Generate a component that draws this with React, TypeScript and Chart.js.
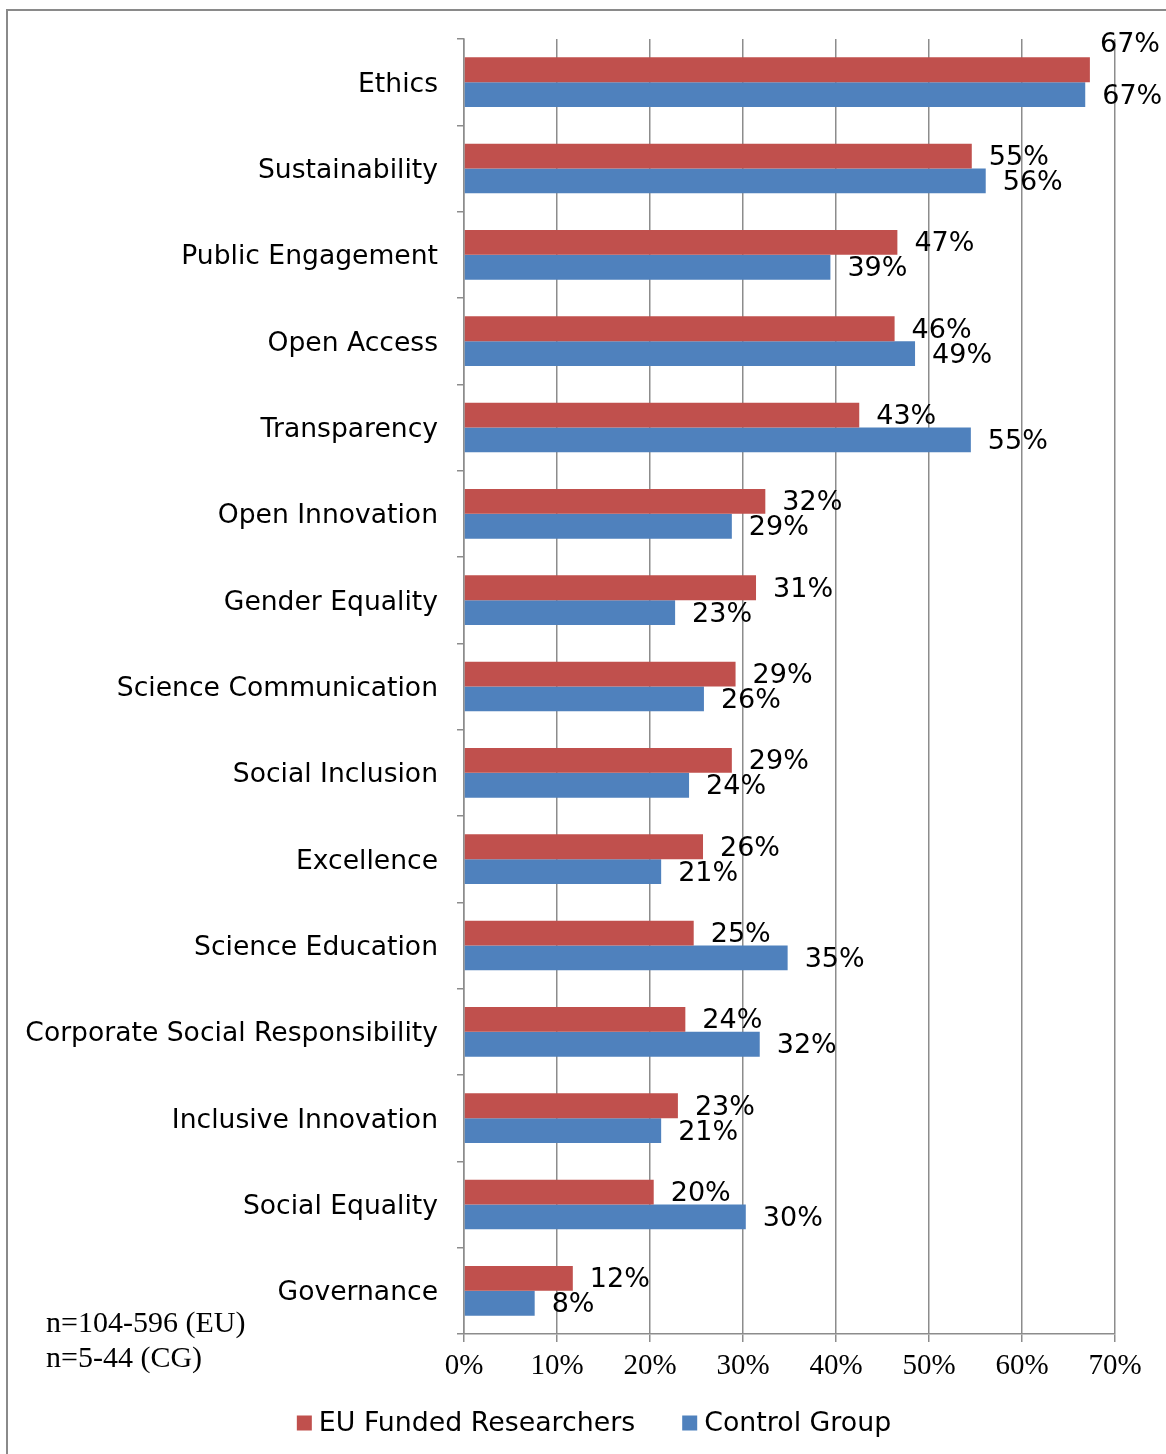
import React, { useEffect, useRef } from "react";
import { Chart, registerables } from "chart.js";

Chart.register(...registerables);

const categories = [
  "Ethics",
  "Sustainability",
  "Public Engagement",
  "Open Access",
  "Transparency",
  "Open Innovation",
  "Gender Equality",
  "Science Communication",
  "Social Inclusion",
  "Excellence",
  "Science Education",
  "Corporate Social Responsibility",
  "Inclusive Innovation",
  "Social Equality",
  "Governance",
];

const euValues = [67.3, 54.6, 46.6, 46.3, 42.5, 32.4, 31.4, 29.2, 28.8, 25.7, 24.7, 23.8, 23.0, 20.4, 11.7];
const cgValues = [66.8, 56.1, 39.4, 48.5, 54.5, 28.8, 22.7, 25.8, 24.2, 21.2, 34.8, 31.8, 21.2, 30.3, 7.6];

const seriesNames = ["EU Funded Researchers", "Control Group"];
const seriesColors = ["#C0504D", "#4F81BD"];
const xTicks = [0, 10, 20, 30, 40, 50, 60, 70];
const sampleNotes = ["n=104-596 (EU)", "n=5-44 (CG)"];

const SANS = '"DejaVu Sans", Verdana, sans-serif';
const SERIF = '"Liberation Serif", "Times New Roman", serif';
const GRID = "#8c8c8c";

const overlayPlugin = {
  id: "overlay",
  afterDatasetsDraw(chart: any) {
    const ctx = chart.ctx;
    ctx.save();
    ctx.font = `27px ${SANS}`;
    ctx.fillStyle = "#000";
    ctx.textBaseline = "middle";
    ctx.textAlign = "left";
    const limit = chart.width - 3;
    chart.data.datasets.forEach((ds: any, di: number) => {
      const meta = chart.getDatasetMeta(di);
      meta.data.forEach((bar: any, i: number) => {
        const text = Math.round(ds.data[i]) + "%";
        const w = ctx.measureText(text).width;
        let x = bar.x + 17;
        let y = bar.y + 2;
        if (x + w > limit) {
          x = limit - 3 - w;
          y = bar.y - bar.height;
        }
        ctx.fillText(text, x, y);
      });
    });
    ctx.restore();
  },
  afterDraw(chart: any) {
    const ctx = chart.ctx;
    ctx.save();
    // sample size notes
    ctx.font = `30px ${SERIF}`;
    ctx.fillStyle = "#000";
    ctx.textBaseline = "middle";
    ctx.textAlign = "left";
    sampleNotes.forEach((t, i) => ctx.fillText(t, 46, 1324 + i * 35));

    // legend
    ctx.font = `26.8px ${SANS}`;
    const box = 15;
    const gap = 7;
    const spacing = 47;
    const widths = seriesNames.map((n) => box + gap + ctx.measureText(n).width);
    const total = widths.reduce((a, b) => a + b, 0) + spacing * (widths.length - 1);
    let x = 594 - total / 2;
    const cy = 1423;
    seriesNames.forEach((n, i) => {
      ctx.fillStyle = seriesColors[i];
      ctx.fillRect(x, cy - box / 2, box, box);
      ctx.fillStyle = "#000";
      ctx.fillText(n, x + box + gap, cy + 1);
      x += widths[i] + spacing;
    });
    ctx.restore();
  },
};

export default function App() {
  const canvasRef = useRef<HTMLCanvasElement | null>(null);

  useEffect(() => {
    if (!canvasRef.current) return;
    const chart = new Chart(canvasRef.current, {
      type: "bar",
      data: {
        labels: categories,
        datasets: [
          {
            label: seriesNames[0],
            data: euValues,
            backgroundColor: seriesColors[0],
            categoryPercentage: 0.575,
            barPercentage: 1,
          },
          {
            label: seriesNames[1],
            data: cgValues,
            backgroundColor: seriesColors[1],
            categoryPercentage: 0.575,
            barPercentage: 1,
          },
        ],
      },
      options: {
        indexAxis: "y",
        animation: false,
        responsive: false,
        maintainAspectRatio: false,
        layout: { padding: { top: 39, right: 51, left: 0, bottom: 0 } },
        plugins: {
          legend: { display: false },
          tooltip: { enabled: false },
        },
        scales: {
          x: {
            type: "linear",
            min: 0,
            max: 70,
            afterBuildTicks: (scale: any) => {
              scale.ticks = xTicks.map((v) => ({ value: v }));
            },
            afterFit: (scale: any) => {
              scale.height = 120;
            },
            ticks: {
              color: "#000",
              font: { family: SERIF, size: 29 },
              padding: 7,
              callback: (v: any) => v + "%",
            },
            grid: {
              color: GRID,
              lineWidth: 1.5,
              tickLength: 8,
              drawOnChartArea: true,
            },
            border: { display: true, color: GRID, width: 1.5 },
          },
          y: {
            type: "category",
            offset: true,
            afterFit: (scale: any) => {
              scale.width = 464;
            },
            ticks: {
              color: "#000",
              font: { family: SANS, size: 26.6 },
              padding: 19,
              labelOffset: 2.5,
            },
            grid: {
              offset: true,
              drawOnChartArea: false,
              drawTicks: true,
              tickLength: 7,
              color: GRID,
              lineWidth: 1.5,
            },
            border: { display: true, color: GRID, width: 1.5 },
          },
        },
      },
      plugins: [overlayPlugin],
    } as any);
    return () => chart.destroy();
  }, []);

  return (
    <div
      style={{
        position: "absolute",
        left: 0,
        top: 0,
        width: 1166,
        height: 1454,
        overflow: "hidden",
        background: "#fff",
      }}
    >
      <canvas
        ref={canvasRef}
        width={1166}
        height={1454}
        style={{ position: "absolute", left: 0, top: 0, width: 1166, height: 1454 }}
      />
      <div
        style={{
          position: "absolute",
          left: 6,
          top: 9,
          width: 1300,
          height: 1600,
          border: "2px solid #8a8a8a",
          boxSizing: "border-box",
          pointerEvents: "none",
        }}
      />
    </div>
  );
}
